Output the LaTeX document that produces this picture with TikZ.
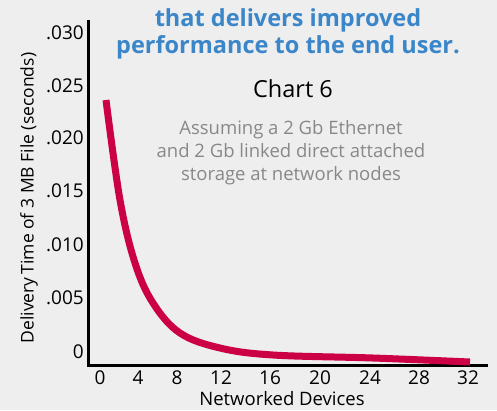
\documentclass[tikz,border=0pt]{standalone}
\usepackage{fontspec}
\setmainfont{Open Sans}
\definecolor{titleblue}{RGB}{58,134,201}
\definecolor{curvered}{RGB}{204,0,68}
\definecolor{notegray}{RGB}{136,136,136}
\definecolor{bggray}{RGB}{238,238,238}

\begin{document}
\begin{tikzpicture}[x=1pt,y=-1pt,
  ticklabel/.style={font=\fontsize{19}{19}\selectfont,inner sep=0pt}]
  \fill[bggray] (0,0) rectangle (497,410);
  \useasboundingbox (0,0) rectangle (497,410);
  % axes
  \draw[line width=3pt] (88,20) -- (88,365) -- (488,365);
  % tick labels
  \foreach \v/\y [count=\i] in {.030/33,.025/86,.020/138,.015/191,.010/245,.005/298,0/352}
    \node[ticklabel,anchor=east] (y\i) at (84,\y) {\v};
  \foreach \v/\x [count=\i] in {0/100,4/138,8/177,12/221,16/270,20/320,24/370,28/419,32/468}
    \node[ticklabel,anchor=north] (x\i) at (\x,371) {\v};
  \node[font=\fontsize{18.5}{18.5}\selectfont] (xlabel) at (282,399) {Networked Devices};
  \node[font=\fontsize{17.5}{17.5}\selectfont,rotate=90] (ylabel) at (29,198) {Delivery\,Time of 3 MB File (seconds)};
  % headings
  \node[font=\fontsize{23.5}{27}\selectfont\bfseries,text=titleblue,align=center] (title) at (288,34)
    {that delivers improved\\performance to the end user.};
  \node[font=\fontsize{23.5}{23.5}\selectfont] (chart) at (293,89) {Chart 6};
  \node[font=\fontsize{18.5}{23}\selectfont,text=notegray,align=center] (note) at (291,153)
    {Assuming a 2 Gb Ethernet\\and 2 Gb linked direct attached\\storage at network nodes};
  % delivery time curve
  \draw[curvered,line width=7pt] plot[smooth,tension=0.6] coordinates {
    (106,100) (120,200) (135,263) (153,303) (180,333)
    (220,348) (273,355) (373,358) (470,362)};
\end{tikzpicture}
\end{document}
